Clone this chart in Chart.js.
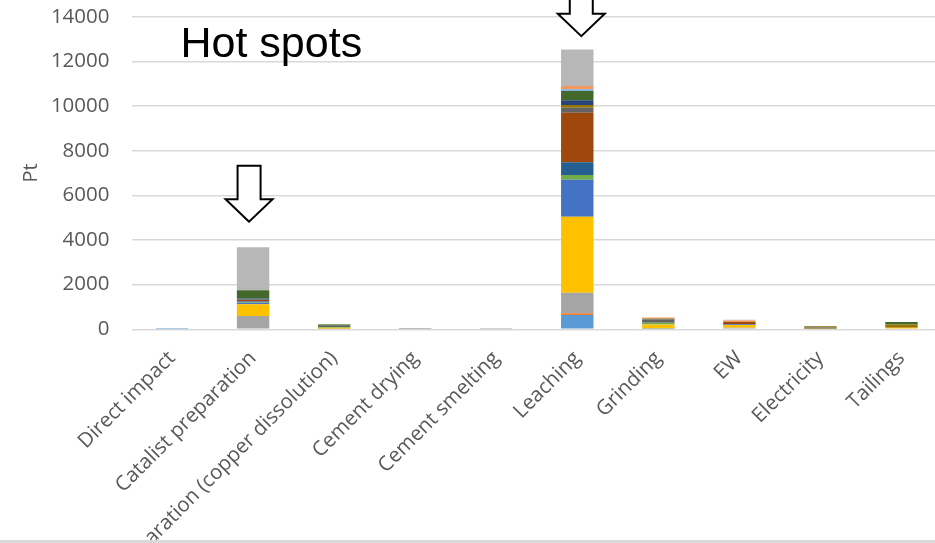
<!DOCTYPE html>
<html>
<head>
<meta charset="utf-8">
<script src="https://cdn.jsdelivr.net/npm/chart.js@4.4.1/dist/chart.umd.min.js"></script>
<style>
    html, body { margin: 0; padding: 0; background: #fff; overflow: hidden; width: 935px; height: 543px; }
    #wrap { position: absolute; left: 0; top: 0; width: 942px; height: 543px; }
    #strip { position: absolute; left: 0; top: 540px; width: 935px; height: 3px; background: #d9d9d9; }
</style>
</head>
<body>
<div id="wrap"><canvas id="hotspotChart" width="942" height="543"></canvas></div>
<div id="strip"></div>
<script>
// Process steps on the x axis
const categories = [
    'Direct impact',
    'Catalist preparation',
    'Solution preparation (copper dissolution)',
    'Cement drying',
    'Cement smelting',
    'Leaching',
    'Grinding',
    'EW',
    'Electricity',
    'Tailings'
];

// Y axis ticks
const yTicks = [0, 2000, 4000, 6000, 8000, 10000, 12000, 14000];

// Contributions per impact category (Pt), one array per stacked series
const s01 = [1, 0, 0, 0, 0, 641, 20, 40, 0, 0];
const s02 = [0, 0, 0, 0, 0, 75, 0, 0, 0, 40];
const s03 = [3, 597, 30, 10, 8, 925, 20, 30, 0, 0];
const s04 = [1, 522, 40, 0, 0, 3403, 170, 120, 20, 30];
const s05 = [0, 70, 0, 0, 0, 1657, 20, 40, 0, 0];
const s06 = [0, 20, 30, 0, 0, 209, 60, 0, 0, 0];
const s07 = [0, 40, 0, 0, 0, 567, 0, 0, 0, 0];
const s08 = [0, 60, 0, 0, 0, 2224, 0, 100, 0, 0];
const s09 = [2, 40, 60, 10, 5, 224, 150, 0, 60, 0];
const s10 = [0, 0, 0, 0, 0, 119, 0, 0, 40, 150];
const s11 = [0, 30, 0, 0, 0, 209, 0, 0, 0, 0];
const s12 = [0, 373, 60, 0, 0, 418, 30, 0, 30, 110];
const s13 = [0, 0, 0, 0, 0, 75, 0, 0, 0, 0];
const s14 = [0, 0, 0, 0, 0, 149, 60, 60, 0, 0];
const s15 = [0, 1920, 20, 0, 0, 1640, 0, 40, 0, 0];

// Hot spot markers: which bar and the value the arrow tip points at
const hotSpotCats = ['Catalist preparation', 'Leaching'];
const hotSpotTips = [4820, 13130];

const seriesData = [s01, s02, s03, s04, s05, s06, s07, s08, s09, s10, s11, s12, s13, s14, s15];
const seriesColors = [
    '#5b9bd5', '#ed7d31', '#a5a5a5', '#ffc000', '#4472c4',
    '#70ad47', '#255e91', '#9e480e', '#636363', '#997300',
    '#264478', '#43682b', '#7cafdd', '#f1975a', '#b7b7b7'
];

const tickFont = { family: 'Open Sans', size: 20.5 };
const textGrey = '#595959';

// Title text and the outlined down arrows
const hotSpotPlugin = {
    id: 'hotSpots',
    afterDatasetsDraw(chart) {
        const ctx = chart.ctx;
        const x = chart.scales.x;
        const y = chart.scales.y;
        const nudge = [-4, 4]; // arrows sit slightly off the bar centres

        ctx.save();
        ctx.fillStyle = '#000';
        ctx.font = '43px "Liberation Sans"';
        ctx.textAlign = 'left';
        ctx.textBaseline = 'alphabetic';
        ctx.fillText('Hot spots', chart.chartArea.left + 49, 57);

        hotSpotCats.forEach((cat, i) => {
            const cx = x.getPixelForValue(categories.indexOf(cat)) + nudge[i];
            const tip = y.getPixelForValue(hotSpotTips[i]);
            const shaftW = 11.5, headW = 23.5, headH = 22.5, shaftH = 33.5;
            ctx.beginPath();
            ctx.moveTo(cx, tip);
            ctx.lineTo(cx - headW, tip - headH);
            ctx.lineTo(cx - shaftW, tip - headH);
            ctx.lineTo(cx - shaftW, tip - headH - shaftH);
            ctx.lineTo(cx + shaftW, tip - headH - shaftH);
            ctx.lineTo(cx + shaftW, tip - headH);
            ctx.lineTo(cx + headW, tip - headH);
            ctx.closePath();
            ctx.fillStyle = '#fff';
            ctx.fill();
            ctx.lineWidth = 2;
            ctx.strokeStyle = '#000';
            ctx.stroke();
        });
        ctx.restore();
    }
};

new Chart(document.getElementById('hotspotChart'), {
    type: 'bar',
    data: {
        labels: categories,
        datasets: seriesData.map((d, i) => ({
            label: 'Series ' + (i + 1),
            data: d,
            backgroundColor: seriesColors[i],
            borderWidth: 0,
            categoryPercentage: 1,
            barPercentage: 0.4
        }))
    },
    options: {
        responsive: false,
        animation: false,
        layout: { padding: { top: 16.7, left: 0, right: 0, bottom: 0 } },
        plugins: {
            legend: { display: false },
            tooltip: { enabled: false }
        },
        scales: {
            x: {
                stacked: true,
                grid: { display: false },
                border: { display: false },
                ticks: {
                    color: textGrey,
                    font: tickFont,
                    minRotation: 45,
                    maxRotation: 45,
                    autoSkip: false,
                    padding: 9
                },
                afterFit(scale) { scale.height = 213.7; }
            },
            y: {
                stacked: true,
                min: 0,
                max: 14000,
                afterBuildTicks(scale) { scale.ticks = yTicks.map(v => ({ value: v })); },
                grid: { color: '#d9d9d9', lineWidth: 1.5, drawTicks: false },
                border: { display: false },
                ticks: {
                    color: textGrey,
                    font: tickFont,
                    padding: 22,
                    callback: v => String(v)
                },
                title: {
                    display: true,
                    text: 'Pt',
                    color: textGrey,
                    font: { family: 'Open Sans', size: 20 },
                    padding: { top: 19, bottom: 0 }
                },
                afterFit(scale) {
                    scale.width = 131.5;
                    scale.paddingTop = 0;
                    scale.paddingBottom = 0;
                }
            }
        }
    },
    plugins: [hotSpotPlugin]
});
</script>
</body>
</html>
